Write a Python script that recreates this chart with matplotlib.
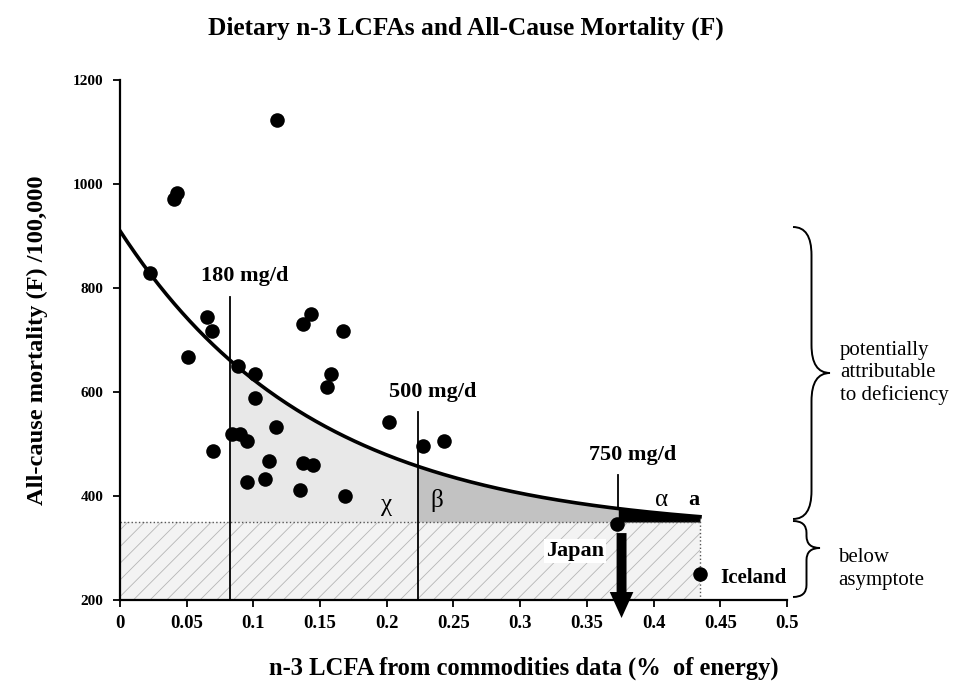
import numpy as np
import matplotlib
matplotlib.use("Agg")
from matplotlib import pyplot as plt
from matplotlib.path import Path
from matplotlib.patches import PathPatch, FancyArrowPatch

plt.rcParams['font.family'] = ['Liberation Serif', 'DejaVu Serif']
plt.rcParams['hatch.linewidth'] = 0.6

# scatter data (% of energy, deaths /100,000)
n3_pct = [0.0225, 0.0405, 0.0427, 0.1175, 0.0512, 0.065, 0.0687, 0.070,
          0.0837, 0.0887, 0.090, 0.095, 0.095, 0.1012, 0.1012, 0.1087,
          0.1117, 0.1167, 0.135, 0.137, 0.137, 0.143, 0.145, 0.1554,
          0.158, 0.167, 0.169, 0.2017, 0.2269, 0.2431]
mortality = [828, 971, 983, 1124, 668, 744, 718, 487,
             519, 650, 519, 506, 426, 634, 588, 433,
             467, 533, 412, 730, 463, 750, 459, 609,
             634, 717, 400, 542, 496, 506]
japan = (0.3723, 347)
iceland = (0.4348, 249)

# fitted curve parameters
curve_floor = 330
curve_amp = 580
curve_rate = 6.8
asymptote = 350
x_end = 0.4348

# intake thresholds
cut_labels = ['180 mg/d', '500 mg/d', '750 mg/d']
cut_x = [0.0825, 0.2236, 0.3735]
cut_top = [783, 561, 440]

xticks = [0, 0.05, 0.1, 0.15, 0.2, 0.25, 0.3, 0.35, 0.4, 0.45, 0.5]
xticklabels = ['0', '0.05', '0.1', '0.15', '0.2', '0.25', '0.3', '0.35', '0.4', '0.45', '0.5']
yticks = [200, 400, 600, 800, 1000, 1200]


def curve(x):
    return curve_floor + curve_amp * np.exp(-curve_rate * np.asarray(x))


fig = plt.figure(figsize=(9.77, 6.86), dpi=100)
ax = fig.add_axes([0.1228, 0.1254, 0.6827, 0.758])

# below asymptote, hatched
ax.fill_between([0, x_end], 200, asymptote, facecolor='#f3f3f3',
                edgecolor='#b5b5b5', hatch='//', linewidth=0, zorder=1)

# shaded regions between asymptote and curve
xs = np.linspace(cut_x[0], cut_x[1], 100)
ax.fill_between(xs, asymptote, curve(xs), color='#e8e8e8', lw=0, zorder=1)
xs = np.linspace(cut_x[1], cut_x[2], 100)
ax.fill_between(xs, asymptote, curve(xs), color='#c2c2c2', lw=0, zorder=1)
xs = np.linspace(cut_x[2], x_end, 50)
ax.fill_between(xs, asymptote, curve(xs), color='black', lw=0, zorder=1)

ax.plot([0, x_end], [asymptote, asymptote], ls=':', color='#555555', lw=1, zorder=2)
ax.plot([x_end, x_end], [200, curve(x_end)], ls=':', color='#555555', lw=1, zorder=2)

xc = np.linspace(0, x_end, 300)
ax.plot(xc, curve(xc), color='black', lw=2.6, zorder=4)

for lab, xv, top in zip(cut_labels, cut_x, cut_top):
    bottom = 200 if xv < 0.3 else curve(xv)
    ax.plot([xv, xv], [bottom, top], color='black', lw=1.3, zorder=3)
    ax.text(xv + 0.011, top + 20, lab, ha='center', va='bottom',
            fontsize=16, fontweight='bold')

ax.scatter(n3_pct, mortality, s=110, color='black', zorder=5, lw=0)
ax.scatter([japan[0], iceland[0]], [japan[1], iceland[1]], s=110,
           color='black', zorder=5, lw=0)

# Japan arrow
arr = FancyArrowPatch((0.376, 334), (0.376, 160),
                      arrowstyle='simple,head_width=1.0,head_length=1.1,tail_width=0.42',
                      mutation_scale=17, color='black', lw=0, zorder=6,
                      clip_on=False)
ax.add_patch(arr)

ax.text(0.341, 294, 'Japan', ha='center', va='center', fontsize=16,
        fontweight='bold', zorder=5,
        bbox=dict(facecolor='white', edgecolor='none', pad=1.5))
ax.text(0.4745, 242, 'Iceland', ha='center', va='center', fontsize=15,
        fontweight='bold', zorder=5, clip_on=False,
        bbox=dict(facecolor='white', edgecolor='none', pad=1.5))

ax.text(0.200, 383, 'χ', ha='center', va='center', fontsize=18)
ax.text(0.2374, 392, 'β', ha='center', va='center', fontsize=18)
ax.text(0.406, 392, 'α', ha='center', va='center', fontsize=18)
ax.text(0.430, 392, 'a', ha='center', va='center', fontsize=16, fontweight='bold')

ax.set_xlim(0, 0.5)
ax.set_ylim(200, 1200)
ax.set_xticks(xticks)
ax.set_xticklabels(xticklabels)
ax.set_yticks(yticks)
for lab in ax.get_xticklabels():
    lab.set_fontweight('bold')
    lab.set_fontsize(13.5)
for lab in ax.get_yticklabels():
    lab.set_fontweight('bold')
    lab.set_fontsize(11)
ax.tick_params(axis='both', direction='out', length=5, width=1.3)
ax.tick_params(axis='x', pad=6)
ax.tick_params(axis='y', pad=7)
ax.spines['top'].set_visible(False)
ax.spines['right'].set_visible(False)
ax.spines['left'].set_linewidth(1.6)
ax.spines['bottom'].set_linewidth(1.6)

ax.set_xlabel('n-3 LCFA from commodities data (%  of energy)', fontsize=17.7,
              fontweight='bold', va='center')
ax.xaxis.set_label_coords(0.605, -0.131)
ax.set_ylabel('All-cause mortality (F) /100,000', fontsize=17.6,
              fontweight='bold', va='center')
ax.yaxis.set_label_coords(-0.124, 0.5)

fig.text(0.477, 0.959, 'Dietary n-3 LCFAs and All-Cause Mortality (F)',
         ha='center', va='center', fontsize=18.3, fontweight='bold')

# braces on the right, drawn in pixel space
ov = fig.add_axes([0, 0, 1, 1], facecolor='none')
ov.set_xlim(0, 977)
ov.set_ylim(686, 0)
ov.axis('off')


def brace(x0, ytop, ymid, ybot, w, r):
    h = w / 2.0
    verts = [(x0, ytop), (x0 + h, ytop), (x0 + h, ytop + r),
             (x0 + h, ymid - r), (x0 + h, ymid), (x0 + w, ymid),
             (x0 + h, ymid), (x0 + h, ymid + r),
             (x0 + h, ybot - r), (x0 + h, ybot), (x0, ybot)]
    codes = [Path.MOVETO, Path.CURVE3, Path.CURVE3,
             Path.LINETO, Path.CURVE3, Path.CURVE3,
             Path.CURVE3, Path.CURVE3,
             Path.LINETO, Path.CURVE3, Path.CURVE3]
    ov.add_patch(PathPatch(Path(verts, codes), facecolor='none',
                           edgecolor='black', lw=1.4))


brace(793, 227, 373, 519, 37, 28)
brace(793, 521, 548, 597, 27, 12)

ov.text(840, 373, 'potentially\nattributable\nto deficiency', ha='left',
        va='center', fontsize=15, linespacing=1.22)
ov.text(838, 569, 'below\nasymptote', ha='left', va='center', fontsize=15,
        linespacing=1.22)

fig.savefig('out.png', dpi=100)
